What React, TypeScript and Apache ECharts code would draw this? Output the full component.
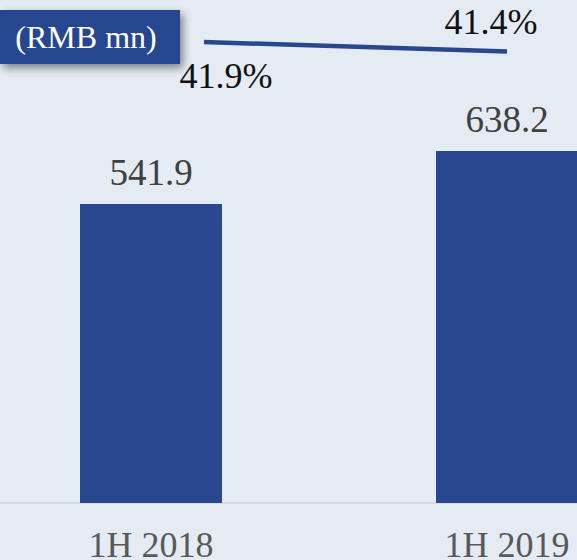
import React, { useEffect, useRef } from "react";
import * as echarts from "echarts";

const categories = ["1H 2018", "1H 2019"];
const revenue = [541.9, 638.2];
const margin = [41.9, 41.4];
const unitLabel = "(RMB mn)";

export default function App() {
  const ref = useRef<HTMLDivElement>(null);
  useEffect(() => {
    const chart = echarts.init(ref.current!, null, { renderer: "svg" });
    const font = "Liberation Serif";
    const bg = "#e4ebf2";
    const blue = "#28478f";
    const labelOffsets = [
      [75, 36],
      [-16, -30],
    ];
    chart.setOption({
      animation: false,
      backgroundColor: bg,
      grid: { left: -27, width: 712, top: 6.5, bottom: 57, outerBoundsMode: "none", containLabel: false },
      xAxis: {
        type: "category",
        data: categories,
        axisTick: { show: false },
        axisLine: { lineStyle: { color: "#cfd4da", width: 1.5 } },
        axisLabel: { fontFamily: font, fontSize: 36, color: "#595959", margin: 24 },
      },
      yAxis: [
        { type: "value", min: 0, max: 900, show: false, splitLine: { show: false } },
        { type: "value", min: 21.245, max: 43.41, show: false, splitLine: { show: false } },
      ],
      series: [
        {
          type: "bar",
          data: revenue,
          barWidth: 142,
          itemStyle: { color: blue },
          label: {
            show: true,
            position: "top",
            distance: 13,
            fontFamily: font,
            fontSize: 37,
            color: "#404040",
          },
        },
        {
          type: "line",
          yAxisIndex: 1,
          data: margin.map((v, i) => ({ value: v, label: { offset: labelOffsets[i] } })),
          symbol: "circle",
          symbolSize: 0.1,
          lineStyle: { color: blue, width: 4.5 },
          itemStyle: { color: blue },
          label: {
            show: true,
            position: "inside",
            formatter: (p: any) => Number(p.value).toFixed(1) + "%",
            fontFamily: font,
            fontSize: 36,
            color: "#111111",
          },
          z: 3,
        },
      ],
      graphic: [
        {
          type: "rect",
          z: 10,
          shape: { x: 180, y: 28, width: 24, height: 26 },
          style: { fill: bg },
        },
        {
          type: "rect",
          z: 11,
          shape: { x: 0, y: 10, width: 180, height: 54 },
          style: {
            fill: blue,
            shadowBlur: 8,
            shadowOffsetX: 3,
            shadowOffsetY: 4,
            shadowColor: "rgba(0,0,0,0.45)",
          },
        },
        {
          type: "text",
          z: 12,
          x: 86,
          y: 37,
          style: {
            text: unitLabel,
            fill: "#ffffff",
            fontSize: 32,
            fontFamily: font,
            align: "center",
            verticalAlign: "middle",
          },
        },
      ],
    });
    return () => chart.dispose();
  }, []);
  return (
    <div
      ref={ref}
      style={{ position: "fixed", left: 0, top: 0, width: 577, height: 560 }}
    />
  );
}
